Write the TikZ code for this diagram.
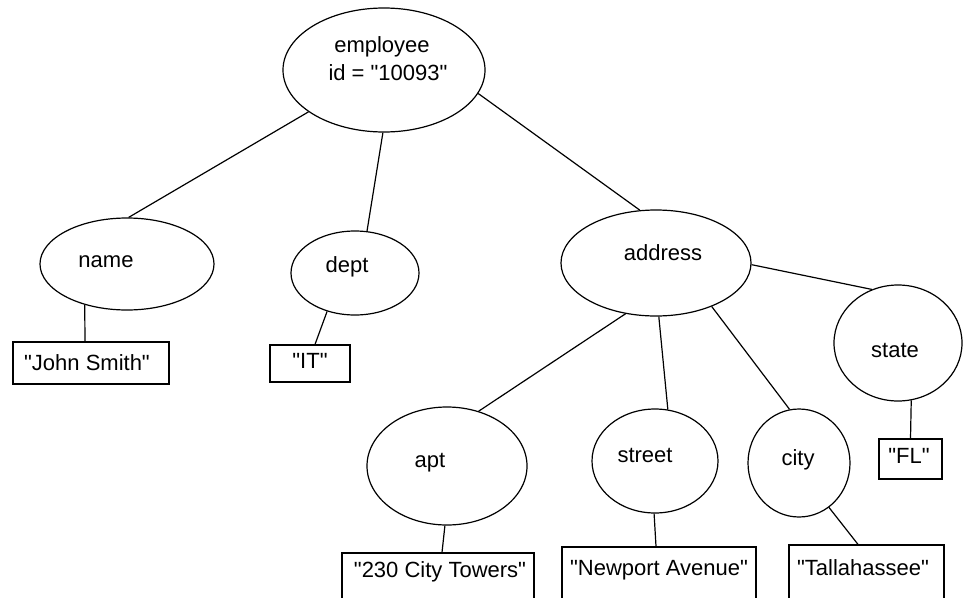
\documentclass[tikz,border=0pt]{standalone}
\usepackage{fontspec}
\newfontfamily\labfont{Liberation Sans}
\usetikzlibrary{shapes.geometric}
\begin{document}
\begin{tikzpicture}[x=1pt,y=-1pt,
  elem/.style={draw, ellipse, inner sep=0pt, line width=1.2pt},
  valbox/.style={draw, rectangle, inner sep=0pt, line width=1.2pt},
  lbl/.style={inner sep=0pt, anchor=mid, yshift=-3pt, font=\labfont\fontsize{22}{26}\selectfont},
  link/.style={line width=1.2pt}]
\useasboundingbox (0,0) rectangle (965,597);
\clip (0,0) rectangle (965,597);
% ellipses
\node[elem, minimum width=202pt, minimum height=124pt] (emp) at (384,70) {};
\node[elem, minimum width=174pt, minimum height=92pt] (name) at (127,264) {};
\node[elem, minimum width=128pt, minimum height=84pt] (dept) at (355,273) {};
\node[elem, minimum width=190pt, minimum height=106pt] (addr) at (656,263) {};
\node[elem, minimum width=128pt, minimum height=116pt] (state) at (898,343) {};
\node[elem, minimum width=160pt, minimum height=118pt] (apt) at (447,466) {};
\node[elem, minimum width=126pt, minimum height=104pt] (street) at (655,461) {};
\node[elem, minimum width=102pt, minimum height=108pt] (city) at (799,463) {};
% boxes
\node[valbox, minimum width=156pt, minimum height=42pt] (john) at (91,363) {};
\node[valbox, minimum width=80pt, minimum height=37pt] (it) at (310,363.5) {};
\node[valbox, minimum width=63pt, minimum height=40pt] (fl) at (910.5,459) {};
\node[valbox, minimum width=192pt, minimum height=80pt] (aptv) at (438,593) {};
\node[valbox, minimum width=194pt, minimum height=86pt] (streetv) at (659,590) {};
\node[valbox, minimum width=155pt, minimum height=90pt] (cityv) at (866.5,590) {};
% labels
\node[lbl] (t-emp1) at (382,47) {employee};
\node[lbl] (t-emp2) at (388,75) {id = "10093"};
\node[lbl] (t-name) at (106,262) {name};
\node[lbl] (t-dept) at (347,267) {dept};
\node[lbl] (t-addr) at (663,255) {address};
\node[lbl] (t-state) at (895,352) {state};
\node[lbl] (t-apt) at (430,462) {apt};
\node[lbl] (t-street) at (645,457) {street};
\node[lbl] (t-city) at (798,460) {city};
\node[lbl] (t-john) at (87,365) {"John Smith"};
\node[lbl] (t-it) at (310,363) {"IT"};
\node[lbl] (t-fl) at (909,458) {"FL"};
\node[lbl] (t-aptv) at (440,572) {"230 City Towers"};
\node[lbl] (t-streetv) at (659,570) {"Newport Avenue"};
\node[lbl] (t-cityv) at (863,570) {"Tallahassee"};
% connectors
\draw[link] (emp.209.7) -- (name.88);
\draw[link] (emp.269) -- (dept.74);
\draw[link] (emp.346) -- (addr.107);
\draw[link] (name.224) -- ([xshift=-6pt]john.north);
\draw[link] (dept.234) -- ([xshift=5pt]it.north);
\draw[link] (addr.359) -- (state.116);
\draw[link] (addr.239) -- (apt.60);
\draw[link] (addr.273) -- (street.76);
\draw[link] (addr.322) -- (city.100);
\draw[link] (state.283) -- (fl.north);
\draw[link] (apt.268) -- ([xshift=4pt]aptv.north);
\draw[link] (street.269) -- ([xshift=-3pt]streetv.north);
\draw[link] (city.304) -- ([xshift=-8.5pt]cityv.north);
\end{tikzpicture}
\end{document}
